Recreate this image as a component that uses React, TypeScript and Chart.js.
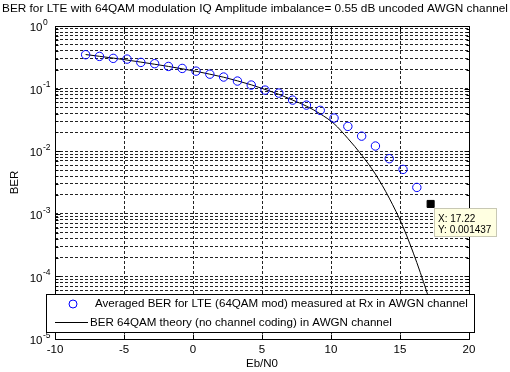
import React, { useEffect, useRef } from 'react';
import { Chart, registerables } from 'chart.js';

Chart.register(...registerables);

const titleText = 'BER for LTE with 64QAM modulation IQ Amplitude imbalance= 0.55 dB uncoded AWGN channel';
const xAxisLabel = 'Eb/N0';
const yAxisLabel = 'BER';
const measuredLabel = 'Averaged BER for LTE (64QAM mod) measured at Rx in AWGN channel';
const theoryLabel = 'BER 64QAM theory (no channel coding) in AWGN channel';

const ebn0 = [
  -7.78, -6.78, -5.78, -4.78, -3.78, -2.78, -1.78, -0.78, 0.22, 1.22, 2.22, 3.22, 4.22,
  5.22, 6.22, 7.22, 8.22, 9.22, 10.22, 11.22, 12.22, 13.22, 14.22, 15.22, 16.22, 17.22,
];
const measuredBer = [
  0.348, 0.327, 0.304, 0.296, 0.262, 0.25, 0.226, 0.21, 0.19, 0.17, 0.153, 0.132, 0.114,
  0.0946, 0.0848, 0.0655, 0.0545, 0.0449, 0.0338, 0.0249, 0.0174, 0.0121, 0.00759, 0.00512,
  0.00264, 0.001437,
];
const theoryBer = [
  0.35, 0.328, 0.307, 0.286, 0.265, 0.245, 0.226, 0.207, 0.189, 0.17, 0.152, 0.133, 0.115,
  0.097, 0.081, 0.0655, 0.0525, 0.0395, 0.0275, 0.016, 0.0087, 0.0043, 0.00178, 0.00062,
  0.000166, 0.000037,
];
const tipIndex = 25;
const tipXText = 'X: 17.22';
const tipYText = 'Y: 0.001437';

const xTickValues = [-10, -5, 0, 5, 10, 15, 20];
const yTickExponents = [0, -1, -2, -3, -4, -5];

const FONT = '"Liberation Sans", Arial, Helvetica, sans-serif';

const decorPlugin = {
  id: 'matlabDecor',
  afterDraw(chart: any) {
    const ctx: CanvasRenderingContext2D = chart.ctx;
    const area = chart.chartArea;
    const xs = chart.scales.x;
    const ys = chart.scales.y;
    const L = Math.round(area.left) + 0.5;
    const R = Math.round(area.right) + 0.5;
    const T = Math.round(area.top) + 0.5;
    const B = Math.round(area.bottom) + 0.5;
    ctx.save();
    ctx.strokeStyle = '#000';
    ctx.lineWidth = 1;
    ctx.setLineDash([]);
    // box
    ctx.beginPath();
    ctx.moveTo(L, T);
    ctx.lineTo(R, T);
    ctx.lineTo(R, B);
    ctx.lineTo(L, B);
    ctx.closePath();
    ctx.stroke();
    // x ticks
    ctx.beginPath();
    xTickValues.forEach((v) => {
      const px = Math.round(xs.getPixelForValue(v)) + 0.5;
      ctx.moveTo(px, B);
      ctx.lineTo(px, B - 5);
      ctx.moveTo(px, T);
      ctx.lineTo(px, T + 5);
    });
    // y ticks
    for (let e = -5; e <= 0; e++) {
      for (let m = 1; m <= 9; m++) {
        if (e === 0 && m > 1) break;
        const v = m * Math.pow(10, e);
        const py = Math.round(ys.getPixelForValue(v)) + 0.5;
        const len = m === 1 ? 5 : 3;
        ctx.moveTo(L, py);
        ctx.lineTo(L + len, py);
        ctx.moveTo(R, py);
        ctx.lineTo(R - len, py);
      }
    }
    ctx.stroke();

    ctx.fillStyle = '#000';
    // x tick labels
    ctx.font = `11.5px ${FONT}`;
    ctx.textAlign = 'center';
    ctx.textBaseline = 'middle';
    xTickValues.forEach((v) => {
      ctx.fillText(String(v), xs.getPixelForValue(v), area.bottom + 11);
    });
    // y tick labels 10^e
    yTickExponents.forEach((e) => {
      const py = ys.getPixelForValue(Math.pow(10, e));
      ctx.font = `11.5px ${FONT}`;
      ctx.textAlign = 'right';
      ctx.textBaseline = 'middle';
      ctx.fillText('10', 42.5, py + 2);
      ctx.font = `8.5px ${FONT}`;
      ctx.textAlign = 'left';
      ctx.fillText(String(e), 43, py - 3.5);
    });
    // axis titles
    ctx.font = `11.5px ${FONT}`;
    ctx.textAlign = 'center';
    ctx.textBaseline = 'middle';
    ctx.fillText(xAxisLabel, (area.left + area.right) / 2, 364);
    ctx.save();
    ctx.translate(15, (area.top + area.bottom) / 2);
    ctx.rotate(-Math.PI / 2);
    ctx.fillText(yAxisLabel, 0, 0);
    ctx.restore();
    // title
    ctx.font = `11.8px ${FONT}`;
    ctx.fillText(titleText, 255, 8.5);

    // legend
    const lx = 46.5, ly = 294.5, lw = 428, lh = 38;
    ctx.fillStyle = '#fff';
    ctx.fillRect(lx, ly, lw, lh);
    ctx.strokeStyle = '#000';
    ctx.strokeRect(lx, ly, lw, lh);
    ctx.beginPath();
    ctx.strokeStyle = '#0000ff';
    ctx.arc(73, 304, 4, 0, Math.PI * 2);
    ctx.stroke();
    ctx.beginPath();
    ctx.strokeStyle = '#000';
    ctx.moveTo(55, 322.5);
    ctx.lineTo(88, 322.5);
    ctx.stroke();
    ctx.fillStyle = '#000';
    ctx.font = `11.6px ${FONT}`;
    ctx.textAlign = 'left';
    ctx.fillText(measuredLabel, 95, 304);
    ctx.fillText(theoryLabel, 90, 322.5);

    // data tip
    const tx = 434.5, ty = 208.5, tw = 62, th = 28;
    ctx.fillStyle = '#ffffe1';
    ctx.fillRect(tx, ty, tw, th);
    ctx.strokeStyle = '#c8c8b4';
    ctx.strokeRect(tx, ty, tw, th);
    ctx.fillStyle = '#000';
    ctx.font = `10px ${FONT}`;
    ctx.fillText(tipXText, 438, 219.5);
    ctx.fillText(tipYText, 438, 230.5);
    ctx.restore();
  },
};

export default function App() {
  const canvasRef = useRef<HTMLCanvasElement | null>(null);

  useEffect(() => {
    const canvas = canvasRef.current;
    if (!canvas) return;
    const measuredPoints = ebn0.map((x, i) => ({ x, y: measuredBer[i] }));
    const theoryPoints = ebn0.map((x, i) => ({ x, y: theoryBer[i] }));

    const chart = new Chart(canvas, {
      type: 'scatter',
      data: {
        datasets: [
          {
            label: theoryLabel,
            data: theoryPoints,
            showLine: true,
            borderColor: '#000',
            borderWidth: 1,
            pointRadius: 0,
            cubicInterpolationMode: 'monotone',
            order: 2,
          },
          {
            label: measuredLabel,
            data: measuredPoints,
            showLine: false,
            borderColor: (c: any) => (c.dataIndex === tipIndex ? '#000' : '#0000ff'),
            backgroundColor: (c: any) => (c.dataIndex === tipIndex ? '#000' : 'rgba(0,0,0,0)'),
            pointStyle: (c: any) => (c.dataIndex === tipIndex ? 'rect' : 'circle'),
            pointRadius: (c: any) => (c.dataIndex === tipIndex ? 5 : 4.2),
            pointBorderWidth: 1,
            order: 1,
          } as any,
        ],
      },
      options: {
        responsive: false,
        animation: false,
        events: [],
        layout: { padding: { left: 55, right: 41, top: 26, bottom: 33 } },
        plugins: {
          legend: { display: false },
          title: { display: false },
          tooltip: { enabled: false },
        },
        scales: {
          x: {
            type: 'linear',
            min: -10,
            max: 20,
            ticks: { display: false, stepSize: 5 },
            grid: { color: '#222', lineWidth: 1, drawTicks: false },
            border: { display: false, dash: [3, 2] },
          },
          y: {
            type: 'logarithmic',
            min: 1e-5,
            max: 1,
            afterBuildTicks: (scale: any) => {
              const t: any[] = [];
              for (let e = -5; e <= 0; e++) {
                for (let m = 1; m <= 9; m++) {
                  if (e === 0 && m > 1) break;
                  t.push({ value: m * Math.pow(10, e) });
                }
              }
              scale.ticks = t;
            },
            ticks: { display: false, autoSkip: false },
            grid: { color: '#222', lineWidth: 1, drawTicks: false },
            border: { display: false, dash: [3, 2] },
          },
        },
      },
      plugins: [decorPlugin],
    } as any);

    return () => chart.destroy();
  }, []);

  return (
    <div style={{ position: 'fixed', left: 0, top: 0, width: 510, height: 372, background: '#fff' }}>
      <canvas ref={canvasRef} width={510} height={372} style={{ display: 'block' }} />
    </div>
  );
}
